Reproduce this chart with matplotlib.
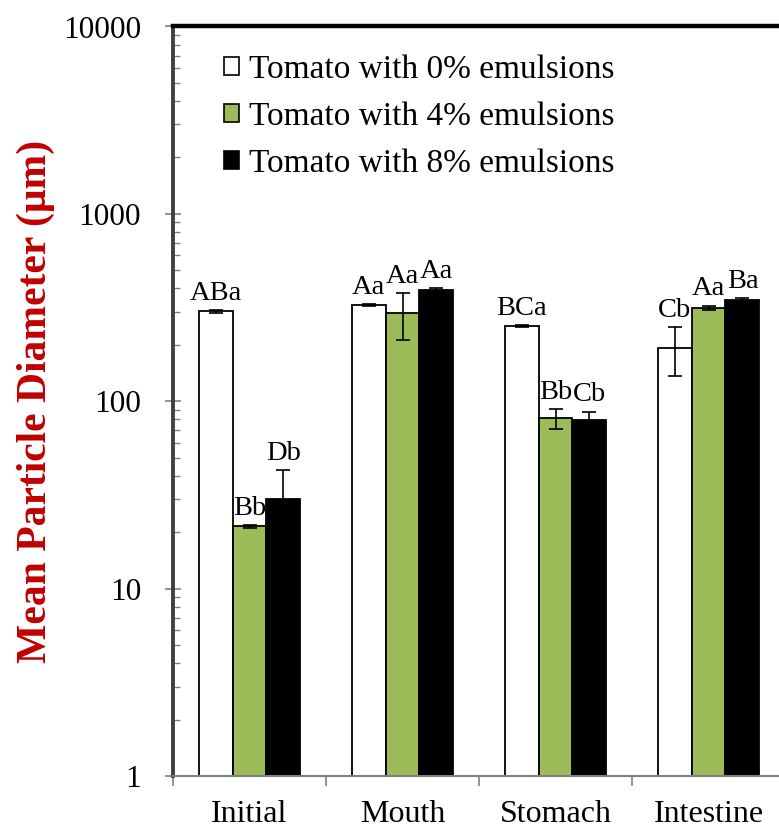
import matplotlib
matplotlib.use("Agg")
import matplotlib.pyplot as plt
import numpy as np
from matplotlib.patches import Patch
from matplotlib.ticker import LogLocator, NullFormatter, FixedLocator

categories = ["Initial", "Mouth", "Stomach", "Intestine"]
series_names = ["Tomato with 0% emulsions", "Tomato with 4% emulsions", "Tomato with 8% emulsions"]
vals_0 = [302, 325, 252, 193]
vals_4 = [21.5, 296, 81, 316]
vals_8 = [30, 391, 79, 346]
err_0 = [6, 4, 3, 57]
err_4 = [0.4, 83, 10, 8]
err_8 = [13, 9, 9, 9]
labels_0 = ["ABa", "Aa", "BCa", "Cb"]
labels_4 = ["Bb", "Aa", "Bb", "Aa"]
labels_8 = ["Db", "Aa", "Cb", "Ba"]
yticks = [1, 10, 100, 1000, 10000]

plt.rcParams['font.family'] = ['Liberation Serif', 'DejaVu Serif']

fig = plt.figure(figsize=(7.79, 8.30), dpi=100)
ax = fig.add_axes([173/779, 54/830, 612/779, (776-26.5)/830])

colors = ["white", "#9BBB59", "black"]
vals = [vals_0, vals_4, vals_8]
errs = [err_0, err_4, err_8]
labs = [labels_0, labels_4, labels_8]
w = 0.222
x = np.arange(len(categories)) + 0.5
for i in range(3):
    xi = x + (i - 1) * w
    ax.bar(xi, vals[i], width=w, color=colors[i], edgecolor="black", linewidth=1.3, zorder=2)
    ax.errorbar(xi, vals[i], yerr=errs[i], fmt="none", ecolor="black", elinewidth=1.2,
                capsize=5, capthick=1.2, zorder=3)
    for xx, v, e, t in zip(xi, vals[i], errs[i], labs[i]):
        ax.annotate(t, (xx, v + e), xytext=(0, 3), textcoords="offset points",
                    ha="center", va="bottom", fontsize=20.5)

ax.set_yscale("log")
ax.set_ylim(1, 10000)
ax.set_xlim(0, 4)
ax.set_yticks(yticks)
ax.set_yticklabels([str(t) for t in yticks])
ax.yaxis.set_minor_locator(LogLocator(base=10, subs=np.arange(2, 10)))
ax.yaxis.set_minor_formatter(NullFormatter())
ax.tick_params(axis="y", which="major", direction="inout", length=12, width=1.2,
               color="#808080", labelsize=22.5, pad=17)
ax.tick_params(axis="y", which="minor", direction="in", length=5, width=1.0, color="#808080")

ax.set_xticks(np.arange(0, 5))
ax.set_xticklabels([])
ax.xaxis.set_minor_locator(FixedLocator(x))
ax.set_xticklabels(categories, minor=True)
ax.tick_params(axis="x", which="major", direction="out", length=7, width=1.2, color="#808080")
ax.tick_params(axis="x", which="minor", length=0, labelsize=23, pad=17)

ax.spines["top"].set_linewidth(3.2)
ax.spines["top"].set_color("black")
ax.spines["left"].set_linewidth(2.8)
ax.spines["left"].set_color("#404040")
ax.spines["bottom"].set_linewidth(1.5)
ax.spines["bottom"].set_color("#808080")
ax.spines["right"].set_visible(False)

ax.set_ylabel("Mean Particle Diameter (\u03bcm)", fontsize=30, fontweight="bold", color="#C00000", labelpad=6)

handles = [Patch(facecolor=c, edgecolor="black", linewidth=1.2) for c in colors]
fig.legend(handles, series_names, loc="upper left", bbox_to_anchor=(224/779, 1 - 54/830),
           frameon=False, fontsize=24, handlelength=0.46, handleheight=0.46,
           handletextpad=0.3, labelspacing=0.5, borderpad=0, borderaxespad=0)

fig.savefig("out.png", dpi=100)
